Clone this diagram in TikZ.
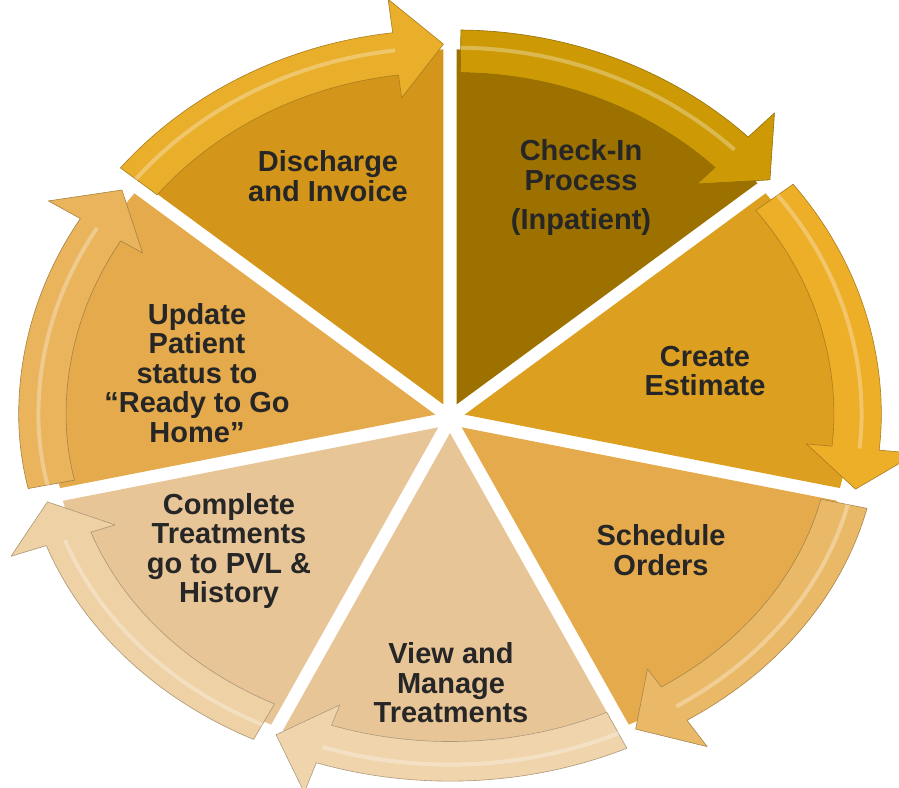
\documentclass[tikz,border=0pt]{standalone}
\usepackage{fontspec}
\setmainfont{Liberation Sans}
\usetikzlibrary{calc}
\definecolor{segCheck}{HTML}{9C7100}
\definecolor{arrCheck}{HTML}{CD9A06}
\definecolor{segCreate}{HTML}{DC9F1F}
\definecolor{arrCreate}{HTML}{EDAE28}
\definecolor{segSched}{HTML}{E4AA4C}
\definecolor{arrSched}{HTML}{EAB968}
\definecolor{segView}{HTML}{E8C597}
\definecolor{arrView}{HTML}{F0D5AC}
\definecolor{segComp}{HTML}{E8C597}
\definecolor{arrComp}{HTML}{EED1A4}
\definecolor{segUpd}{HTML}{E4AA4C}
\definecolor{arrUpd}{HTML}{E9B45C}
\definecolor{segDis}{HTML}{D3961A}
\definecolor{arrDis}{HTML}{E9AE2A}
\definecolor{txtgray}{HTML}{262626}
% vertical radius: larger in the upper half than in the lower half
\pgfmathdeclarefunction{ery}{1}{\pgfmathparse{(sin(#1)>=0)*355+(sin(#1)<0)*330}}
\def\ERX{385}
\def\ARX{395}
\def\sIn{0.935}
\def\sOut{1.055}
\def\wIn{0.87}
\def\wOut{1.15}
\def\sTip{1.015}
\newcommand{\cycseg}[3]{%
  \pgfmathsetmacro{\cpMid}{(#1+#2)/2}%
  \begin{scope}[shift={($(C)+(\cpMid:15pt)$)}]
    \fill[#3] (0,0) -- plot[domain=#1:#2, samples=50]
      ({\ERX*cos(\x)}, {ery(\x)*sin(\x)}) -- cycle;
  \end{scope}
}
\newcommand{\cycarrow}[3]{%
  \pgfmathsetmacro{\cpMid}{(#1+#2)/2}%
  \pgfmathsetmacro{\cpHead}{#2+7}%
  \pgfmathsetmacro{\cpTail}{#1-0.6}%
  \begin{scope}[shift={($(C)+(\cpMid:15pt)$)}]
    \filldraw[fill=#3, draw=#3!72!black, line width=0.6pt, line join=round]
      plot[domain=\cpTail:\cpHead, samples=40]
        ({\sOut*\ARX*cos(\x)}, {\sOut*ery(\x)*sin(\x)})
      -- ({\wOut*\ARX*cos(\cpHead)}, {\wOut*ery(\cpHead)*sin(\cpHead)})
      -- ({\sTip*\ARX*cos(#2)}, {\sTip*ery(#2)*sin(#2)})
      -- ({\wIn*\ARX*cos(\cpHead)}, {\wIn*ery(\cpHead)*sin(\cpHead)})
      -- plot[domain=\cpHead:\cpTail, samples=40]
        ({\sIn*\ARX*cos(\x)}, {\sIn*ery(\x)*sin(\x)})
      -- cycle;
    \draw[white, opacity=0.3, line width=4pt]
      plot[domain=\cpTail:\cpHead, samples=40]
        ({1.005*\ARX*cos(\x)}, {1.005*ery(\x)*sin(\x)});
  \end{scope}
}
\begin{document}
\begin{tikzpicture}[x=1pt, y=1pt,
  lbl/.style={text=txtgray, align=center, font=\bfseries\fontsize{29}{29.5}\selectfont}]
\useasboundingbox (0,0) rectangle (899,787);
\coordinate (C) at (450,369);
% segments
\cycseg{90}{38.571}{segCheck}
\cycseg{38.571}{-12.857}{segCreate}
\cycseg{-12.857}{-64.286}{segSched}
\cycseg{-64.286}{-115.714}{segView}
\cycseg{-115.714}{-167.143}{segComp}
\cycseg{192.857}{141.429}{segUpd}
\cycseg{141.429}{90}{segDis}
% arrows
\cycarrow{90}{38.571}{arrCheck}
\cycarrow{38.571}{-12.857}{arrCreate}
\cycarrow{-12.857}{-64.286}{arrSched}
\cycarrow{-64.286}{-115.714}{arrView}
\cycarrow{-115.714}{-167.143}{arrComp}
\cycarrow{192.857}{141.429}{arrUpd}
\cycarrow{141.429}{90}{arrDis}
% labels
\node[lbl] (dis) at (328,611) {Discharge\\and Invoice};
\node[lbl] (chk) at (581,599) {Check-In\\Process\\[10pt](Inpatient)};
\node[lbl] (est) at (705,416) {Create\\Estimate};
\node[lbl] (sch) at (661,237) {Schedule\\Orders};
\node[lbl] (vie) at (451,104) {View and\\Manage\\Treatments};
\node[lbl] (cmp) at (229,236) {Complete\\Treatments\\go to PVL \&\\History};
\node[lbl] (upd) at (197,414) {Update\\Patient\\status to\\“Ready to Go\\Home”};
\end{tikzpicture}
\end{document}
